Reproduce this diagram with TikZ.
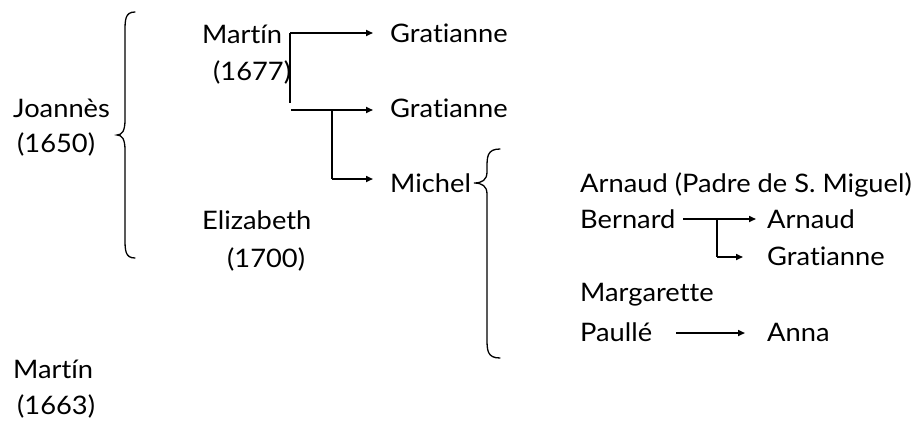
\documentclass[tikz,border=0pt]{standalone}
\usepackage{fontspec}
\setmainfont[FakeStretch=1.07, RawFeature={-liga}]{Lato}
\usetikzlibrary{arrows.meta}
\begin{document}
\begin{tikzpicture}[x=1pt,y=-1pt,
  lbl/.style={anchor=base west, inner sep=0pt, font=\fontsize{25.5}{30}\selectfont},
  link/.style={line width=1.6pt},
  arr/.style={link, -{Triangle[length=7pt,width=6pt]}},
  brace/.style={line width=1.3pt, line cap=round}]
\fill[white] (0,0) rectangle (921,421);
\useasboundingbox (0,0) rectangle (921,421);

% names
\node[lbl] (jo)  at (13,117)  {Joannès};
\node[lbl] (joy) at (17,152)  {(1650)};
\node[lbl] (ma)  at (202,43)  {Martín};
\node[lbl] (may) at (213,80)  {(1677)};
\node[lbl] (el)  at (202,229) {Elizabeth};
\node[lbl] (ely) at (227,267) {(1700)};
\node[lbl] (g1)  at (390,42)  {Gratianne};
\node[lbl] (g2)  at (390,117) {Gratianne};
\node[lbl] (mi)  at (390,192) {Michel};
\node[lbl] (ar)  at (580,192) {Arnaud (Padre de S. Miguel)};
\node[lbl] (be)  at (580,228) {Bernard};
\node[lbl] (a2)  at (767,228) {Arnaud};
\node[lbl] (g3)  at (767,265) {Gratianne};
\node[lbl] (mg)  at (580,301) {Margarette};
\node[lbl] (pa)  at (580,341) {Paullé};
\node[lbl] (an)  at (767,341) {Anna};
\node[lbl] (m2)  at (13,378)  {Martín};
\node[lbl] (m2y) at (17,414)  {(1663)};

% brace of Joannès
\draw[brace] (135,12) .. controls (125,12) and (125,20) .. (125,32)
  -- (125,120) .. controls (125,131) and (122,135) .. (117,135)
  .. controls (122,135) and (125,139) .. (125,150)
  -- (125,238) .. controls (125,250) and (125,258) .. (135,258);

% brace of Michel
\draw[brace] (500,149) .. controls (487,149) and (487,157) .. (487,168)
  -- (487,172) .. controls (487,180) and (482,183) .. (474,183)
  .. controls (482,183) and (487,186) .. (487,194)
  -- (487,338) .. controls (487,350) and (487,358) .. (500,358);

% children of Martín
\coordinate (mA) at (290,33);
\coordinate (mB) at (290,103);
\coordinate (mC) at (291,110);
\coordinate (mD) at (332,110);
\coordinate (mE) at (332,179);
\draw[link] (mA) -- (mB);
\draw[arr, shorten >=17pt] (mA) -- (mA -| g1.west);
\draw[arr, shorten >=17pt] (mC) -- (mC -| g2.west);
\draw[link] (mD) -- (mE);
\draw[arr, shorten >=17pt] (mE) -- (mE -| mi.west);

% children of Bernard
\coordinate (bA) at (683,219);
\coordinate (bB) at (717,219);
\coordinate (bC) at (717,257);
\draw[arr, shorten >=11pt] (bA) -- (bA -| a2.west);
\draw[link] (bB) -- (bC);
\draw[arr, shorten >=24pt] (bC) -- (bC -| g3.west);

% child of Paullé
\coordinate (pA) at (676,333);
\draw[arr, shorten >=22pt] (pA) -- (pA -| an.west);
\end{tikzpicture}
\end{document}
